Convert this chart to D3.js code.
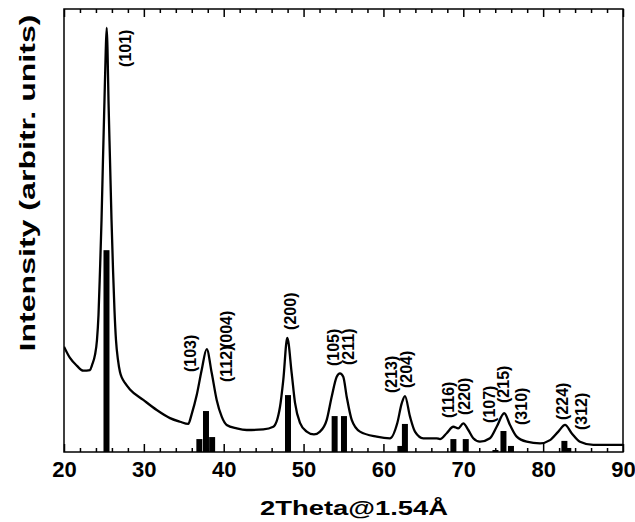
<!DOCTYPE html>
<html>
<head>
<meta charset="utf-8">
<script src="https://cdn.jsdelivr.net/npm/d3@7"></script>
<style>
  body { margin: 0; background: #fff; }
  svg { display: block; font-family: "Liberation Sans", Arial, sans-serif; }
</style>
</head>
<body>
<script>
//////////
// DATA //
//////////

var twoTheta = [20.00, 20.75, 21.59, 22.42, 23.26, 23.51, 23.88, 24.13, 24.32, 24.51,
  24.70, 24.88, 25.07, 25.23, 25.35, 25.45, 25.57, 25.76, 25.95, 26.14,
  26.32, 26.51, 26.76, 27.01, 27.26, 27.63, 28.26, 29.93, 31.61, 33.27,
  34.53, 35.56, 35.99, 36.62, 37.24, 37.87, 38.50, 39.12, 39.75, 40.37,
  41.63, 42.88, 44.96, 46.21, 47.05, 47.46, 47.96, 48.51, 48.93, 49.55,
  50.39, 51.30, 52.06, 52.90, 53.52, 54.15, 54.56, 54.97, 55.40, 56.03,
  57.06, 59.16, 60.82, 61.74, 62.29, 62.70, 63.33, 63.95, 64.99, 66.67,
  67.08, 67.92, 68.75, 69.37, 70.00, 70.63, 71.25, 72.09, 73.34, 74.18,
  75.13, 75.85, 76.69, 77.94, 79.61, 80.86, 81.90, 82.74, 83.57, 84.61,
  86.28, 87.96, 90.00];
var intensity = [52.2, 46.6, 42.8, 40.3, 40.6, 43.1, 48.1, 55.5, 67.9, 90.2,
  115.0, 144.7, 174.4, 199.2, 210.1, 199.2, 174.4, 144.7, 115.0, 90.2,
  70.4, 55.5, 45.6, 39.6, 36.7, 34.2, 31.0, 25.8, 20.8, 16.8,
  15.0, 13.9, 18.8, 28.2, 40.6, 51.0, 39.1, 25.8, 17.5, 13.4,
  11.7, 10.9, 11.2, 12.5, 22.4, 35.7, 56.5, 39.1, 24.3, 14.4,
  10.1, 8.7, 10.1, 15.9, 27.4, 37.3, 39.0, 37.3, 27.4, 15.9,
  10.1, 7.6, 6.8, 14.4, 24.1, 27.7, 17.5, 10.1, 6.8, 6.8,
  6.4, 9.3, 12.5, 11.7, 14.2, 10.9, 6.8, 5.1, 6.8, 12.5,
  19.2, 13.4, 7.6, 5.1, 4.3, 5.9, 10.1, 13.4, 9.3, 5.1,
  3.5, 3.5, 3.5];

// reference reflections (stick pattern)
var refHkl = ["(101)", "(103)", "(004)", "(112)", "(200)", "(105)", "(211)", "(213)",
  "(204)", "(116)", "(220)", "(107)", "(215)", "(310)", "(224)", "(312)"];
var refPos = [25.32, 36.95, 37.78, 38.55, 48.05, 53.89, 55.06, 62.12,
  62.69, 68.76, 70.31, 74.03, 75.03, 75.97, 82.66, 83.15];
var refInt = [100, 6.4, 20.3, 7.4, 28.2, 17.8, 17.8, 3.0,
  13.9, 6.4, 6.4, 1.0, 10.4, 3.0, 5.5, 2.0];

// label anchors in data units (2theta, intensity)
var labelText = ["(101)", "(103)", "(112)", "(004)", "(200)", "(105)", "(211)", "(213)",
  "(204)", "(116)", "(220)", "(107)", "(215)", "(310)", "(224)", "(312)"];
var labelX = [27.64, 35.78, 40.29, 40.29, 48.30, 53.68, 55.56, 60.95,
  62.83, 68.08, 70.09, 73.22, 74.97, 77.23, 82.36, 84.74];
var labelY = [190.8, 39.6, 34.7, 51.5, 60.5, 42.6, 43.1, 29.2,
  31.7, 16.8, 18.3, 14.4, 24.3, 13.4, 15.9, 10.9];

var majorTicks = [20, 30, 40, 50, 60, 70, 80, 90];
var minorTicks = d3.range(20, 91, 2).filter(function (d) { return d % 10 != 0; });

//////////////////////////////
// SVG AND GRAPH DIMENSIONS //
//////////////////////////////

var svgWidth = 635, svgHeight = 522;
var margin = { top: 9, right: 12, bottom: 70, left: 64 };
var width = svgWidth - margin.left - margin.right,
    height = svgHeight - margin.top - margin.bottom;

var svg = d3.select("body").append("svg")
  .attr("width", svgWidth)
  .attr("height", svgHeight);

var g = svg.append("g")
  .attr("transform", "translate(" + margin.left + "," + margin.top + ")");

var x = d3.scaleLinear().domain([20, 90]).range([0, width]);
var y = d3.scaleLinear().domain([0, 219.5]).range([height, 0]);

g.append("clipPath").attr("id", "plotclip")
  .append("rect").attr("width", width).attr("height", height);

//////////
// BARS //
//////////

var refs = refPos.map(function (p, i) { return { pos: p, val: refInt[i], hkl: refHkl[i] }; });

g.append("g").attr("clip-path", "url(#plotclip)")
  .selectAll("rect")
  .data(refs)
  .enter().append("rect")
  .attr("x", function (d) { return x(d.pos - 0.375); })
  .attr("width", function (d) { return x(d.pos + 0.375) - x(d.pos - 0.375); })
  .attr("y", function (d) { return y(d.val); })
  .attr("height", function (d) { return y(0) - y(d.val); })
  .attr("fill", "#000");

///////////
// CURVE //
///////////

var pts = twoTheta.map(function (t, i) { return [t, intensity[i]]; });

var line = d3.line()
  .x(function (d) { return x(d[0]); })
  .y(function (d) { return y(d[1]); })
  .curve(d3.curveMonotoneX);

g.append("path")
  .datum(pts)
  .attr("clip-path", "url(#plotclip)")
  .attr("d", line)
  .attr("fill", "none")
  .attr("stroke", "#000")
  .attr("stroke-width", 2.3)
  .attr("stroke-linejoin", "round");

////////////
// LABELS //
////////////

g.selectAll(".hkl")
  .data(labelText)
  .enter().append("text")
  .attr("class", "hkl")
  .attr("transform", function (d, i) {
    return "translate(" + x(labelX[i]) + "," + y(labelY[i]) + ") rotate(-90)";
  })
  .attr("dy", "0.35em")
  .style("font-size", "16px")
  .style("font-weight", "bold")
  .text(function (d) { return d; });

//////////
// AXES //
//////////

var xAxisMajor = d3.axisBottom(x).tickValues(majorTicks).tickSize(-8).tickPadding(9)
  .tickFormat(d3.format("d"));
var xAxisMinor = d3.axisBottom(x).tickValues(minorTicks).tickSize(-4).tickFormat("");
var xTopMajor = d3.axisTop(x).tickValues(majorTicks).tickSize(-8).tickFormat("");
var xTopMinor = d3.axisTop(x).tickValues(minorTicks).tickSize(-4).tickFormat("");

g.append("g").attr("class", "axis").attr("transform", "translate(0," + height + ")").call(xAxisMajor);
g.append("g").attr("class", "axis").attr("transform", "translate(0," + height + ")").call(xAxisMinor);
g.append("g").attr("class", "axis").call(xTopMajor);
g.append("g").attr("class", "axis").call(xTopMinor);

g.selectAll(".axis .domain").remove();
g.selectAll(".axis line").attr("stroke", "#000").attr("stroke-width", 1.5);
g.selectAll(".axis text")
  .style("font-size", "22px")
  .style("font-weight", "bold")
  .style("font-family", "'Liberation Sans', Arial, sans-serif")
  .attr("fill", "#000");

// frame
g.append("rect")
  .attr("width", width)
  .attr("height", height)
  .attr("fill", "none")
  .attr("stroke", "#000")
  .attr("stroke-width", 1.5);

svg.append("text")
  .attr("x", 354)
  .attr("y", 515)
  .attr("text-anchor", "middle")
  .attr("textLength", 188)
  .attr("lengthAdjust", "spacingAndGlyphs")
  .style("font-size", "21px")
  .style("font-weight", "bold")
  .text("2Theta@1.54Å");

svg.append("text")
  .attr("transform", "translate(35,183) rotate(-90)")
  .attr("text-anchor", "middle")
  .attr("textLength", 337)
  .attr("lengthAdjust", "spacingAndGlyphs")
  .style("font-size", "22px")
  .style("font-weight", "bold")
  .text("Intensity (arbitr. units)");
</script>
</body>
</html>
